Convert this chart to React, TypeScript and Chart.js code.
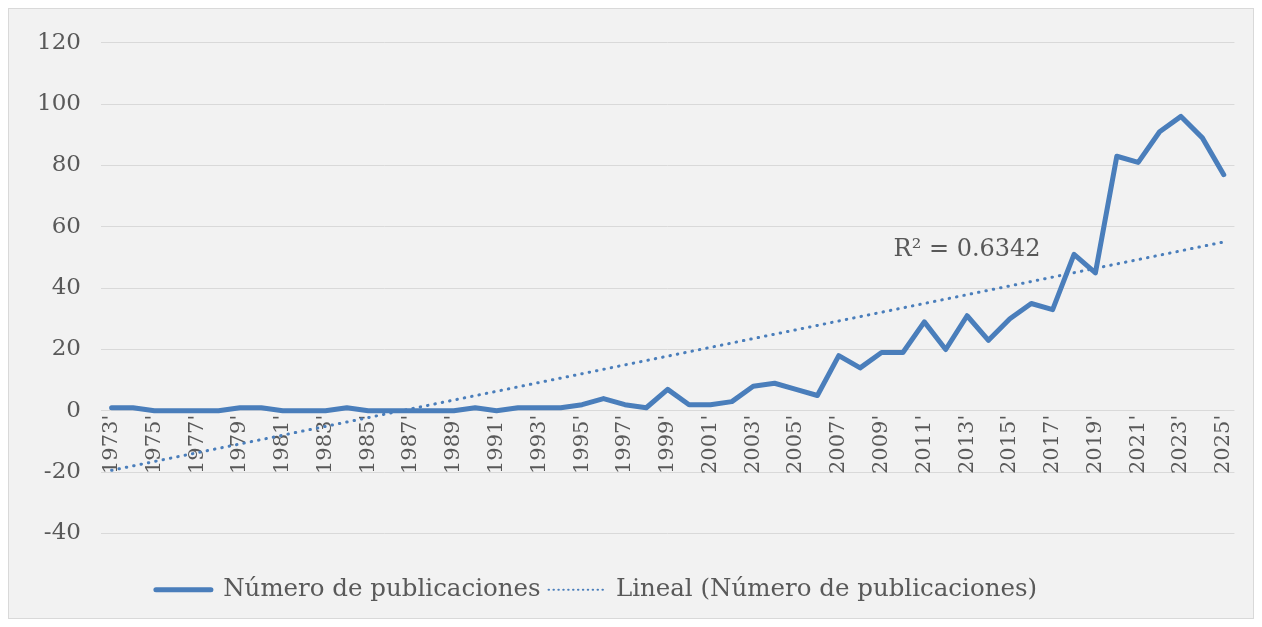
import React, { useEffect, useRef } from "react";
import { Chart, registerables } from "chart.js";

Chart.register(...registerables);

const years: string[] = [
  "1973'", "1974'", "1975'", "1976'", "1977'", "1978'", "1979'", "1980'", "1981'", "1982'",
  "1983'", "1984'", "1985'", "1986'", "1987'", "1988'", "1989'", "1990'", "1991'", "1992'",
  "1993'", "1994'", "1995'", "1996'", "1997'", "1998'", "1999'", "2000'", "2001'", "2002'",
  "2003'", "2004'", "2005'", "2006'", "2007'", "2008'", "2009'", "2010'", "2011'", "2012'",
  "2013'", "2014'", "2015'", "2016'", "2017'", "2018'", "2019'", "2020'", "2021'", "2022'",
  "2023'", "2024'", "2025'",
];

const publicaciones: number[] = [
  1, 1, 0, 0, 0, 0, 1, 1, 0, 0,
  0, 1, 0, 0, 0, 0, 0, 1, 0, 1,
  1, 1, 2, 4, 2, 1, 7, 2, 2, 3,
  8, 9, 7, 5, 18, 14, 19, 19, 29, 20,
  31, 23, 30, 35, 33, 51, 45, 83, 81, 91,
  96, 89, 77,
];

const seriesLabel = "Número de publicaciones";
const trendLabel = "Lineal (Número de publicaciones)";
const r2Text = "R² = 0.6342";
const r2AnchorYear = "2013'";
const r2AnchorValue = 52.5;

const yTicksMin = -40;
const yTicksMax = 120;
const yTicksStep = 20;

// least-squares linear trend of the series (as Excel's "Lineal" trendline)
function linearTrend(values: number[]): number[] {
  const n = values.length;
  let sx = 0, sy = 0, sxx = 0, sxy = 0;
  values.forEach((v, i) => {
    sx += i; sy += v; sxx += i * i; sxy += i * v;
  });
  const slope = (n * sxy - sx * sy) / (n * sxx - sx * sx);
  const intercept = (sy - slope * sx) / n;
  return values.map((_, i) => intercept + slope * i);
}

const FONT = '"DejaVu Serif", "Liberation Serif", serif';
const TEXT = "#595959";
const BLUE = "#4a7ebb";

export default function App() {
  const ref = useRef<HTMLCanvasElement | null>(null);

  useEffect(() => {
    if (!ref.current) return;
    const r2Plugin = {
      id: "r2label",
      afterLayout(chart: any) {
        if (chart.legend) {
          chart.legend.left -= 36;
          chart.legend.right -= 36;
        }
      },
      afterDatasetsDraw(chart: any) {
        const { ctx, scales } = chart;
        const x = scales.x.getPixelForValue(years.indexOf(r2AnchorYear));
        const y = scales.y.getPixelForValue(r2AnchorValue);
        ctx.save();
        ctx.font = `24px ${FONT}`;
        ctx.fillStyle = TEXT;
        ctx.textAlign = "center";
        ctx.textBaseline = "middle";
        ctx.fillText(r2Text, x, y);
        ctx.restore();
      },
    };
    const legendWidths = [5, 2.2];
    const legendDash = [[], [0.3, 4.6]];
    const chart = new Chart(ref.current, {
      type: "line",
      data: {
        labels: years,
        datasets: [
          {
            label: seriesLabel,
            data: publicaciones,
            borderColor: BLUE,
            backgroundColor: BLUE,
            borderWidth: 5,
            pointRadius: 0,
            pointStyle: "line",
            borderJoinStyle: "round",
            borderCapStyle: "round",
            tension: 0,
          },
          {
            label: trendLabel,
            data: linearTrend(publicaciones),
            borderColor: BLUE,
            backgroundColor: BLUE,
            borderWidth: 3,
            borderDash: [0.5, 7],
            borderCapStyle: "round",
            pointRadius: 0,
            pointStyle: "line",
            tension: 0,
          },
        ],
      },
      options: {
        animation: false,
        responsive: true,
        maintainAspectRatio: false,
        layout: { padding: { top: 14, left: 8, right: 5, bottom: 6 } },
        plugins: {
          legend: {
            position: "bottom",
            title: { display: true, text: " ", font: { size: 10 }, padding: { top: 12, bottom: 12 } },
            labels: {
              usePointStyle: true,
              pointStyleWidth: 55,
              boxHeight: 20,
              color: TEXT,
              font: { family: FONT, size: 24.5 },
              padding: 8,
              generateLabels: (chart: any) => {
                const items = Chart.defaults.plugins.legend.labels.generateLabels(chart);
                items.forEach((it: any, i: number) => {
                  it.lineWidth = legendWidths[i];
                  it.lineDash = legendDash[i];
                  it.lineCap = "round";
                  it.strokeStyle = BLUE;
                  it.pointStyle = "line";
                });
                return items;
              },
            },
          },
          tooltip: { enabled: false },
        },
        scales: {
          x: {
            offset: true,
            position: { y: 0 } as any,
            grid: { display: false, drawTicks: false },
            border: { display: false },
            ticks: {
              autoSkip: false,
              maxRotation: 90,
              minRotation: 90,
              padding: 4,
              color: TEXT,
              font: { family: FONT, size: 21 },
              callback: (_v: any, i: number) => (i % 2 === 0 ? years[i] : ""),
            },
          },
          y: {
            min: yTicksMin,
            max: yTicksMax,
            grid: { color: "#d9d9d9", lineWidth: 1, drawTicks: false },
            border: { display: false },
            ticks: {
              stepSize: yTicksStep,
              padding: 20,
              color: TEXT,
              font: { family: FONT, size: 23 },
            },
          },
        },
      },
      plugins: [r2Plugin],
    });
    return () => chart.destroy();
  }, []);

  return (
    <div
      style={{
        width: 1244,
        height: 609,
        border: "1px solid #d9d9d9",
        background: "#f2f2f2",
        position: "relative",
      }}
    >
      <canvas ref={ref} />
    </div>
  );
}
